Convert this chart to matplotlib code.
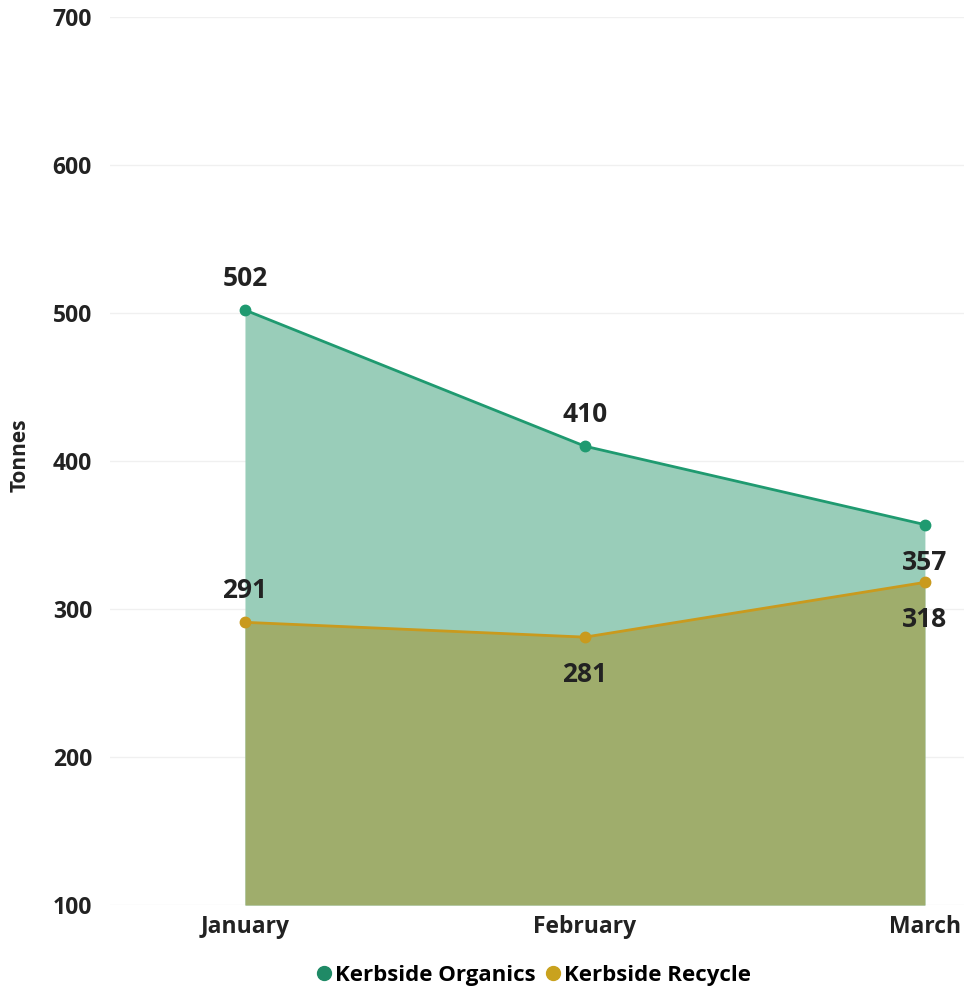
import matplotlib.pyplot as plt
from matplotlib.lines import Line2D

months = ["January", "February", "March"]
organics = [502, 410, 357]
recycle = [291, 281, 318]
y_ticks = [100, 200, 300, 400, 500, 600, 700]

# label placement per point: +1 above, -1 below
organics_pos = [1, 1, -1]
recycle_pos = [1, -1, -1]

plt.rcParams['font.family'] = ['Open Sans', 'DejaVu Sans']

fig = plt.figure(figsize=(9.64, 9.97), dpi=100)
ax = fig.add_axes([110 / 964, 92 / 997, 854 / 964, 888 / 997])

x = list(range(len(months)))
org_line = "#1f9a70"
rec_line = "#c99a1e"

ax.fill_between(x, 100, organics, color="#99cdb9", zorder=1, linewidth=0)
ax.fill_between(x, 100, recycle, color="#9fad6c", zorder=2, linewidth=0)
ax.plot(x, organics, color=org_line, lw=2, marker="o", ms=7.5, zorder=4)
ax.plot(x, recycle, color=rec_line, lw=2, marker="o", ms=7.5, zorder=4)


def offset(p):
    return 23 if p > 0 else -27


for series, pos in ((organics, organics_pos), (recycle, recycle_pos)):
    for xi, v, p in zip(x, series, pos):
        ax.annotate(f"{v}", (xi, v), xytext=(0, offset(p)), textcoords="offset points",
                    ha="center", va="center", fontsize=19, fontweight="bold",
                    color="#222222", zorder=5)

ax.set_xlim(-0.397, 2.115)
ax.set_ylim(100, 700)
ax.set_yticks(y_ticks)
ax.set_yticklabels([str(t) for t in y_ticks], fontsize=16.5, fontweight="bold",
                   color="#222222")
ax.set_xticks(x)
ax.set_xticklabels(months, fontsize=16.5, fontweight="bold", color="#222222")
ax.tick_params(length=0, axis="y", pad=13)
ax.tick_params(length=0, axis="x", pad=7)
ax.grid(axis="y", color="#f0f0f0", lw=1, zorder=0)
ax.set_axisbelow(True)
for s in ax.spines.values():
    s.set_visible(False)

fig.text(20 / 964, 1 - 455 / 997, "Tonnes", rotation=90, ha="center", va="center",
         fontsize=15, fontweight="bold", color="#222222")

handles = [
    Line2D([], [], ls="none", marker="o", ms=10, color="#1f8a66"),
    Line2D([], [], ls="none", marker="o", ms=10, color="#c9a21e"),
]
fig.legend(handles, ["Kerbside Organics", "Kerbside Recycle"], loc="center",
           bbox_to_anchor=(532 / 964, 1 - 975 / 997), ncol=2, frameon=False,
           prop={"size": 16, "weight": "bold"}, handletextpad=0.0,
           columnspacing=0.3, handlelength=1.0)

fig.savefig("out.png", dpi=100)
